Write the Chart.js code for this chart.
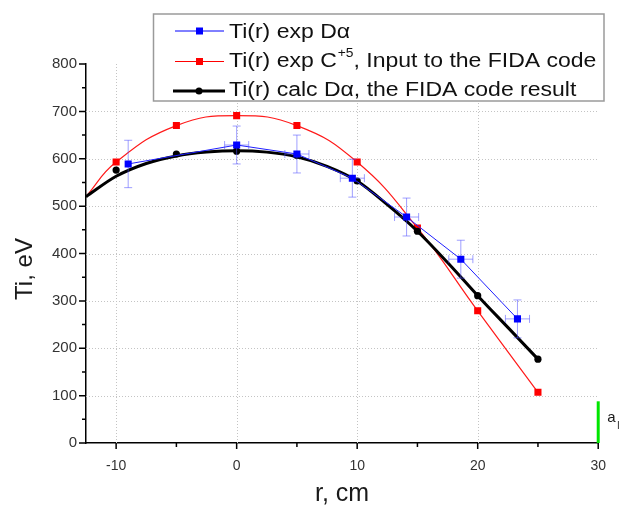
<!DOCTYPE html>
<html><head><meta charset="utf-8">
<script src="https://cdn.jsdelivr.net/npm/chart.js@4/dist/chart.umd.min.js"></script>
<style>html,body{margin:0;padding:0;background:#fff}#wrap{width:621px;height:507px;position:relative}</style>
</head><body><div id="wrap"><canvas id="c" width="621" height="507"></canvas></div>
<script>
// ---- data ----
const xTicks = [-10, 0, 10, 20, 30];
const xMinorTicks = [-5, 5, 15, 25];
const yTicks = [0, 100, 200, 300, 400, 500, 600, 700, 800];
const yMinorTicks = [50, 150, 250, 350, 450, 550, 650, 750];

const blueR = [-9, 0, 5, 9.6, 14.1, 18.6, 23.3];
const blueTi = [589, 629, 610, 559, 477, 388, 262];
const blueTiErr = [50, 40, 40, 40, 40, 40, 40];
const blueRErr = [0, 1, 1, 1, 1, 1, 1];

const redR = [-10, -5, 0, 5, 10, 15, 20, 25];
const redTi = [593, 670, 691, 670, 593, 454, 279, 107];
const redCurveStartR = -12.5;
const redCurveStartTi = 520;

const blackR = [-10, -5, 0, 5, 10, 15, 20, 25];
const blackTi = [576, 610, 616, 607, 553, 447, 311, 177];
const blackFitR = [-12.5, -10, -7.5, -5, -2.5, 0, 2.5, 5, 7.5, 10, 12.5, 15, 17.5, 20, 22.5, 25];
const blackFitTi = [520, 563, 590, 606, 614, 617, 614, 604, 584, 553, 503, 447, 381, 311, 244, 177];

const limitR = [30, 30];
const limitTi = [0, 88];

const legendTexts = ['Ti(r) exp D\u03b1', 'Ti(r) exp C', '+5', ', Input to the FIDA code', 'Ti(r) calc D\u03b1, the FIDA code result'];
const xTitle = 'r, cm';
const yTitle = 'Ti, eV';

const FF = '"Liberation Sans", Arial, sans-serif';
const pts = (xs, ys) => xs.map((x, i) => ({x: x, y: ys[i]}));

function sText(ctx, txt, x, y, size, sx, color, align) {
  ctx.save();
  ctx.font = size + 'px ' + FF;
  ctx.fillStyle = color;
  ctx.textBaseline = 'alphabetic';
  ctx.textAlign = 'left';
  const w = ctx.measureText(txt).width * sx;
  const x0 = align === 'center' ? x - w / 2 : (align === 'right' ? x - w : x);
  ctx.translate(x0, y);
  ctx.scale(sx, 1);
  ctx.fillText(txt, 0, 0);
  ctx.restore();
  return w;
}

const gridPlugin = {
  id: 'dotgrid',
  beforeDatasetsDraw(chart) {
    const {ctx, chartArea: a, scales: {x, y}} = chart;
    ctx.save();
    ctx.strokeStyle = '#c4c4c4';
    ctx.lineWidth = 1;
    ctx.setLineDash([1, 2]);
    xTicks.filter(v => v < 30).forEach(v => {
      const px = Math.round(x.getPixelForValue(v)) + 0.5;
      ctx.beginPath(); ctx.moveTo(px, a.top); ctx.lineTo(px, a.bottom); ctx.stroke();
    });
    yTicks.filter(v => v > 0 && v < 800).forEach(v => {
      const py = Math.round(y.getPixelForValue(v)) + 0.5;
      ctx.beginPath(); ctx.moveTo(a.left, py); ctx.lineTo(a.right, py); ctx.stroke();
    });
    ctx.restore();
  },
  beforeDatasetDraw(chart, args) {
    if (args.index !== 4) return;
    const {ctx, scales: {x, y}} = chart;
    ctx.save();
    ctx.strokeStyle = 'rgba(80,80,255,0.55)';
    ctx.lineWidth = 1;
    blueR.forEach((r, i) => {
      const px = x.getPixelForValue(r), py = y.getPixelForValue(blueTi[i]);
      const t = y.getPixelForValue(blueTi[i] + blueTiErr[i]);
      const b = y.getPixelForValue(blueTi[i] - blueTiErr[i]);
      ctx.beginPath();
      ctx.moveTo(px, t); ctx.lineTo(px, b);
      ctx.moveTo(px - 4, t); ctx.lineTo(px + 4, t);
      ctx.moveTo(px - 4, b); ctx.lineTo(px + 4, b);
      if (blueRErr[i] > 0) {
        const l = x.getPixelForValue(r - blueRErr[i]);
        const rr = x.getPixelForValue(r + blueRErr[i]);
        ctx.moveTo(l, py); ctx.lineTo(rr, py);
        ctx.moveTo(l, py - 4); ctx.lineTo(l, py + 4);
        ctx.moveTo(rr, py - 4); ctx.lineTo(rr, py + 4);
      }
      ctx.stroke();
    });
    ctx.restore();
  },
  afterDraw(chart) {
    const {ctx, chartArea: a, scales: {x, y}} = chart;
    ctx.save();
    ctx.strokeStyle = '#000';
    ctx.lineWidth = 1.5;
    ctx.beginPath();
    xTicks.forEach(v => { const p = x.getPixelForValue(v); ctx.moveTo(p, a.bottom); ctx.lineTo(p, a.bottom + 6); });
    xMinorTicks.forEach(v => { const p = x.getPixelForValue(v); ctx.moveTo(p, a.bottom); ctx.lineTo(p, a.bottom + 4); });
    yTicks.forEach(v => { const p = y.getPixelForValue(v); ctx.moveTo(a.left, p); ctx.lineTo(a.left - 7, p); });
    yMinorTicks.forEach(v => { const p = y.getPixelForValue(v); ctx.moveTo(a.left, p); ctx.lineTo(a.left - 4, p); });
    ctx.stroke();
    ctx.restore();

    // y axis title (rotated)
    ctx.save();
    ctx.translate(32, 269);
    ctx.rotate(-Math.PI / 2);
    ctx.font = '24px ' + FF;
    ctx.fillStyle = '#1a1a1a';
    ctx.textAlign = 'center';
    ctx.textBaseline = 'alphabetic';
    ctx.fillText(yTitle, 0, 0);
    ctx.restore();

    // a_l label next to the green limiter line
    const gx = x.getPixelForValue(30);
    sText(ctx, 'a', gx + 9, 422, 15, 1, '#1a1a1a', 'left');
    sText(ctx, 'l', gx + 19, 428.5, 10, 1, '#1a1a1a', 'left');

    // legend
    ctx.save();
    ctx.fillStyle = '#fff';
    ctx.fillRect(153.5, 14, 450.5, 87);
    ctx.strokeStyle = '#9a9a9a';
    ctx.lineWidth = 1.5;
    ctx.strokeRect(153.5, 14, 450.5, 87);
    ctx.lineWidth = 1; ctx.strokeStyle = '#0000ff';
    ctx.beginPath(); ctx.moveTo(175, 31); ctx.lineTo(224, 31); ctx.stroke();
    ctx.fillStyle = '#0000ff'; ctx.fillRect(196, 27.5, 7, 7);
    ctx.strokeStyle = '#ff0000';
    ctx.beginPath(); ctx.moveTo(175, 61.5); ctx.lineTo(224, 61.5); ctx.stroke();
    ctx.fillStyle = '#ff0000'; ctx.fillRect(196, 58, 7, 7);
    ctx.lineWidth = 3; ctx.strokeStyle = '#000';
    ctx.beginPath(); ctx.moveTo(173, 91); ctx.lineTo(225, 91); ctx.stroke();
    ctx.fillStyle = '#000'; ctx.beginPath(); ctx.arc(199, 91, 3.5, 0, Math.PI * 2); ctx.fill();
    ctx.restore();
    const sx = 1.15, fs = 20, col = '#111';
    sText(ctx, legendTexts[0], 229, 38, fs, sx, col);
    let w = sText(ctx, legendTexts[1], 229, 67, fs, sx, col);
    let w2 = sText(ctx, legendTexts[2], 229 + w + 1, 56.5, 12, sx, col);
    sText(ctx, legendTexts[3], 229 + w + 1 + w2, 67, fs, sx, col);
    sText(ctx, legendTexts[4], 229, 96, fs, sx, col);
  }
};

new Chart(document.getElementById('c'), {
  type: 'scatter',
  data: {
    datasets: [
      { label: 'limiter', data: pts(limitR, limitTi), showLine: true, borderColor: '#00e600',
        borderWidth: 3, pointRadius: 0, order: 10, clip: false },
      { label: 'Ti(r) exp C+5, Input to the FIDA code',
        data: [{x: redCurveStartR, y: redCurveStartTi}].concat(pts(redR, redTi)),
        showLine: true, borderColor: '#ff1a1a', borderWidth: 1.2, tension: 0.45,
        pointStyle: 'rect',
        pointRadius: [0].concat(redR.map(() => 5)), pointBorderWidth: 0,
        pointBackgroundColor: '#ff0000', order: 6 },
      { label: 'calc fit', data: pts(blackFitR, blackFitTi), showLine: true, borderColor: '#000',
        borderWidth: 3, tension: 0.4, cubicInterpolationMode: 'monotone', pointRadius: 0, order: 5 },
      { label: 'Ti(r) calc D\u03b1, the FIDA code result', data: pts(blackR, blackTi), showLine: false,
        pointStyle: 'circle', pointRadius: 3.6, pointBorderWidth: 0, pointBackgroundColor: '#000', order: 4 },
      { label: 'Ti(r) exp D\u03b1', data: pts(blueR, blueTi), showLine: true, borderColor: '#2020ff',
        borderWidth: 1, tension: 0, pointStyle: 'rect', pointRadius: 5, pointBorderWidth: 0,
        pointBackgroundColor: '#0000ff', order: 2 }
    ]
  },
  options: {
    responsive: false,
    animation: false,
    devicePixelRatio: 1,
    layout: { padding: { left: 0, right: 22, top: 64, bottom: 0 } },
    plugins: { legend: { display: false }, tooltip: { enabled: false } },
    scales: {
      x: {
        type: 'linear', min: -12.5, max: 30,
        afterBuildTicks: s => { s.ticks = xTicks.map(v => ({value: v})); },
        afterFit: s => { s.height = 64; },
        grid: { display: false, drawTicks: false },
        border: { display: true, color: '#000', width: 1.5 },
        ticks: { padding: 15, color: '#333', font: { family: FF, size: 14 }, maxRotation: 0 },
        title: { display: true, text: xTitle, color: '#1a1a1a', font: { family: FF, size: 25, lineHeight: 1 },
                 padding: { top: 0, bottom: 0 } }
      },
      y: {
        type: 'linear', min: 0, max: 800,
        afterBuildTicks: s => { s.ticks = yTicks.map(v => ({value: v})); },
        afterFit: s => { s.width = 86; },
        grid: { display: false, drawTicks: false },
        border: { display: true, color: '#000', width: 1.5 },
        ticks: { padding: 9, color: '#333', font: { family: FF, size: 15 } }
      }
    }
  },
  plugins: [gridPlugin]
});
</script>
</body></html>
